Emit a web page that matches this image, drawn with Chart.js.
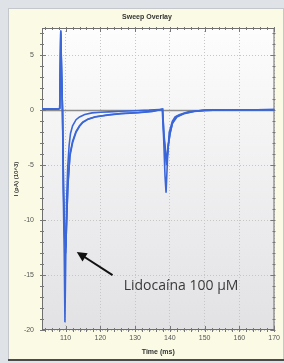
<!DOCTYPE html>
<html>
<head>
<meta charset="utf-8">
<script src="https://cdn.jsdelivr.net/npm/chart.js@4"></script>
<style>
  html, body { margin: 0; padding: 0; background: #dfe3e8; }
  canvas { display: block; }
</style>
</head>
<body>
<canvas id="chart-sweep" width="284" height="363"></canvas>
<script>
/* ── Datos de los barridos (tiempo en ms, corriente en pA x10^3) ── */
const sweepTimes1 = [103.2, 104, 105, 106, 107, 108, 108.3, 108.6, 108.85, 109.1, 109.35, 109.6, 109.8, 110.05, 110.3, 110.6, 111, 111.4, 112, 113, 114, 115.5, 117.6, 120, 122.5, 126, 130, 134, 137, 137.8, 138.2, 138.6, 138.9, 139.3, 139.8, 140.7, 141.5, 142.7, 145.5, 150, 155, 160, 165, 170.1];
const sweepCurrent1 = [0.12, 0.15, 0.1, 0.13, 0.15, 0.12, 0.2, 7.3, 3.5, 0, -8, -13, -19.3, -13, -8, -5.2, -3.2, -2.1, -1.4, -0.85, -0.6, -0.38, -0.23, -0.17, -0.14, -0.08, -0.03, 0.02, 0.08, 0.1, -2.5, -6, -7.5, -4.5, -2, -1, -0.6, -0.4, -0.1, 0, 0.04, 0.05, 0.06, 0.08];

const sweepTimes2 = [103.2, 104, 105, 106, 107, 108, 108.3, 108.6, 108.85, 109.1, 109.4, 109.7, 110.0, 110.3, 110.6, 111.2, 112, 113, 114, 114.8, 116.5, 118.5, 122.5, 126, 131, 135, 137, 137.9, 138.3, 139.0, 139.4, 140, 140.7, 142, 144, 147, 150, 155, 160, 165, 170.1];
const sweepCurrent2 = [0.1, 0.13, 0.15, 0.1, 0.12, 0.15, 0.18, 7.0, 3.2, 0, -7, -11, -13, -10, -7.2, -4.2, -2.95, -2.0, -1.45, -1.14, -0.8, -0.6, -0.41, -0.3, -0.22, -0.1, 0.05, 0.1, -2.5, -5, -3.5, -2.2, -1.2, -0.6, -0.3, -0.1, 0, 0.03, 0.05, 0.04, 0.06];

const sweepTimes3 = [103.2, 104, 105, 106, 107, 108, 108.3, 108.6, 108.85, 109.1, 109.4, 109.7, 110.05, 110.35, 110.7, 111.3, 112, 113, 114, 115, 116.5, 118.5, 122.5, 126, 131, 135, 137, 137.9, 138.3, 139.1, 139.5, 140.1, 140.8, 142, 144, 147, 150, 155, 160, 165, 170.1];
const sweepCurrent3 = [0.14, 0.1, 0.12, 0.15, 0.1, 0.13, 0.2, 7.2, 3.0, 0, -7.5, -11.5, -12.5, -9.5, -6.5, -3.9, -2.8, -1.9, -1.4, -1.05, -0.78, -0.58, -0.4, -0.28, -0.2, -0.08, 0.04, 0.1, -2.2, -4.8, -3.2, -2, -1.1, -0.55, -0.28, -0.08, 0.02, 0.04, 0.03, 0.05, 0.07];

const xTicks = [110, 120, 130, 140, 150, 160, 170];
const yTicks = [-20, -15, -10, -5, 0, 5];
const xMinorTicks = [104, 106, 108, 112, 114, 116, 118, 122, 124, 126, 128, 132, 134, 136, 138, 142, 144, 146, 148, 152, 154, 156, 158, 162, 164, 166, 168];
const yMinorTicks = [-19, -18, -17, -16, -14, -13, -12, -11, -9, -8, -7, -6, -4, -3, -2, -1, 1, 2, 3, 4, 6, 7];

// Flecha y texto de la anotación (en coordenadas de datos)
const arrowTip = { x: 113.2, y: -12.9 };
const arrowTail = { x: 123.5, y: -15.0 };
const noteAnchor = { x: 126.7, y: -16.0 };
const noteText = 'Lidocaína 100 µM';

const toPoints = (ts, vs) => ts.map((t, i) => ({ x: t, y: vs[i] }));
const BLUE = '#3a66d8';

/* ── Fondo: marco gris, panel crema y área del gráfico ── */
const backdrop = {
  id: 'backdrop',
  beforeDraw(chart) {
    const { ctx, chartArea: a } = chart;
    ctx.save();
    ctx.fillStyle = '#dfe3e8';
    ctx.fillRect(0, 0, chart.width, chart.height);
    ctx.fillStyle = '#fbfbe5';
    ctx.fillRect(9, 9, 274, 350);
    ctx.strokeStyle = '#c4c8cc';
    ctx.strokeRect(8.5, 8.5, 275, 351);
    ctx.fillStyle = '#4a4a4a';
    ctx.fillRect(8, 359, 276, 2);
    const g = ctx.createLinearGradient(0, a.top, 0, a.bottom);
    g.addColorStop(0, '#fdfdfd');
    g.addColorStop(1, '#e2e2e5');
    ctx.fillStyle = g;
    ctx.fillRect(a.left, a.top, a.right - a.left, a.bottom - a.top);
    ctx.restore();
  }
};

/* ── Línea cero, marco, marcas menores ── */
const frame = {
  id: 'frame',
  beforeDatasetsDraw(chart) {
    const { ctx, chartArea: a, scales: { x, y } } = chart;
    ctx.save();
    const y0 = Math.round(y.getPixelForValue(0)) + 0.5;
    ctx.strokeStyle = '#8c8c8c';
    ctx.lineWidth = 1.5;
    ctx.beginPath(); ctx.moveTo(a.left, y0); ctx.lineTo(a.right, y0); ctx.stroke();

    ctx.strokeStyle = '#6e6e6e';
    ctx.lineWidth = 1;
    ctx.strokeRect(a.left + 0.5, a.top + 0.5, a.right - a.left - 1, a.bottom - a.top - 1);

    const tick = (len, vals, horiz) => {
      vals.forEach(v => {
        if (horiz) {
          const px = Math.round(x.getPixelForValue(v)) + 0.5;
          ctx.beginPath();
          ctx.moveTo(px, a.bottom - len); ctx.lineTo(px, a.bottom + 2);
          ctx.moveTo(px, a.top - 1); ctx.lineTo(px, a.top + len);
          ctx.stroke();
        } else {
          const py = Math.round(y.getPixelForValue(v)) + 0.5;
          ctx.beginPath();
          ctx.moveTo(a.left - 2, py); ctx.lineTo(a.left + len, py);
          ctx.moveTo(a.right - len, py); ctx.lineTo(a.right + 1, py);
          ctx.stroke();
        }
      });
    };
    ctx.strokeStyle = '#777';
    tick(2, xMinorTicks, true);
    tick(2, yMinorTicks, false);
    tick(4, xTicks, true);
    tick(4, yTicks, false);
    ctx.restore();
  },
  afterDraw(chart) {
    const { ctx, chartArea: a, scales: { x, y } } = chart;
    ctx.save();
    ctx.fillStyle = '#333';
    ctx.textAlign = 'center';
    ctx.textBaseline = 'middle';
    ctx.font = 'bold 7px "Liberation Sans", Arial, sans-serif';
    ctx.fillText('Sweep Overlay', 147, 17);
    ctx.fillText('Time (ms)', (a.left + a.right) / 2, 352);
    ctx.translate(16, (a.top + a.bottom) / 2);
    ctx.rotate(-Math.PI / 2);
    ctx.font = 'bold 6px "Liberation Sans", Arial, sans-serif';
    ctx.fillText('I (pA) (10^3)', 0, 0);
    ctx.restore();

    // anotación
    ctx.save();
    const tx = x.getPixelForValue(arrowTip.x), ty = y.getPixelForValue(arrowTip.y);
    const sx = x.getPixelForValue(arrowTail.x), sy = y.getPixelForValue(arrowTail.y);
    const ang = Math.atan2(ty - sy, tx - sx);
    ctx.strokeStyle = '#111';
    ctx.fillStyle = '#111';
    ctx.lineWidth = 2;
    ctx.beginPath();
    ctx.moveTo(sx, sy);
    ctx.lineTo(tx - 6 * Math.cos(ang), ty - 6 * Math.sin(ang));
    ctx.stroke();
    ctx.beginPath();
    ctx.moveTo(tx, ty);
    ctx.lineTo(tx - 11 * Math.cos(ang - 0.45), ty - 11 * Math.sin(ang - 0.45));
    ctx.lineTo(tx - 11 * Math.cos(ang + 0.45), ty - 11 * Math.sin(ang + 0.45));
    ctx.closePath();
    ctx.fill();
    ctx.fillStyle = '#3a3a3a';
    ctx.font = '14px "Open Sans", sans-serif';
    ctx.textAlign = 'left';
    ctx.textBaseline = 'middle';
    ctx.fillText(noteText, x.getPixelForValue(noteAnchor.x), y.getPixelForValue(noteAnchor.y));
    ctx.restore();
  }
};

const sweepStyle = { borderColor: BLUE, borderWidth: 1.6, pointRadius: 0, tension: 0, fill: false };

new Chart(document.getElementById('chart-sweep'), {
  type: 'line',
  data: {
    datasets: [
      { label: 'Sweep 1', data: toPoints(sweepTimes1, sweepCurrent1), ...sweepStyle },
      { label: 'Sweep 2', data: toPoints(sweepTimes2, sweepCurrent2), ...sweepStyle },
      { label: 'Sweep 3', data: toPoints(sweepTimes3, sweepCurrent3), ...sweepStyle },
    ]
  },
  options: {
    responsive: false,
    animation: false,
    devicePixelRatio: 1,
    layout: { padding: { top: 28, right: 8, left: 0, bottom: 0 } },
    plugins: { legend: { display: false }, tooltip: { enabled: false } },
    scales: {
      x: {
        type: 'linear', min: 103.2, max: 170.1,
        afterBuildTicks: s => { s.ticks = xTicks.map(v => ({ value: v })); },
        afterFit: s => { s.height = 33; },
        ticks: { color: '#555', font: { size: 7, family: 'Liberation Sans' }, padding: 4, maxRotation: 0 },
        grid: { color: '#c6c6c6', drawTicks: false },
        border: { display: false, dash: [1, 2] }
      },
      y: {
        min: -20, max: 7.5,
        afterBuildTicks: s => { s.ticks = yTicks.map(v => ({ value: v })); },
        afterFit: s => { s.width = 42; },
        ticks: { color: '#555', font: { size: 7, family: 'Liberation Sans' }, padding: 8 },
        grid: { color: ctx => ctx.tick && ctx.tick.value === 0 ? 'rgba(0,0,0,0)' : '#c6c6c6', drawTicks: false },
        border: { display: false, dash: [1, 2] }
      }
    }
  },
  plugins: [backdrop, frame]
});
</script>
</body>
</html>
